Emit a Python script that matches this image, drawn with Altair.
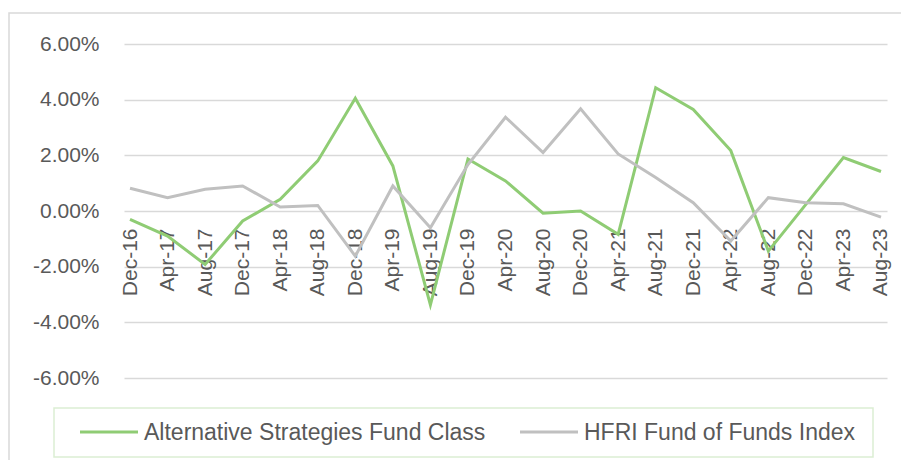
import altair as alt
import pandas as pd

months = ["Dec-16", "Apr-17", "Aug-17", "Dec-17", "Apr-18", "Aug-18", "Dec-18",
          "Apr-19", "Aug-19", "Dec-19", "Apr-20", "Aug-20", "Dec-20", "Apr-21",
          "Aug-21", "Dec-21", "Apr-22", "Aug-22", "Dec-22", "Apr-23", "Aug-23"]

# values in percent
alt_strategies = [-0.30, -0.90, -1.92, -0.36, 0.42, 1.80, 4.05, 1.62, -3.37, 1.87,
                  1.08, -0.08, 0.00, -0.84, 4.43, 3.65, 2.17, -1.44, 0.24, 1.92, 1.42]
hfri_fof = [0.82, 0.48, 0.78, 0.90, 0.14, 0.20, -1.62, 0.90, -0.60, 1.67,
            3.37, 2.10, 3.67, 2.05, 1.20, 0.30, -1.08, 0.48, 0.30, 0.26, -0.22]

series_names = ["Alternative Strategies Fund Class", "HFRI Fund of Funds Index"]
series_colors = ["#8fcc74", "#c0c0c0"]

rows = []
for m, a, h in zip(months, alt_strategies, hfri_fof):
    rows.append({"month": m, "series": series_names[0], "value": a / 100})
    rows.append({"month": m, "series": series_names[1], "value": h / 100})
df = pd.DataFrame(rows)

FONT = "Liberation Sans"
LABEL_COLOR = "#595959"
one = pd.DataFrame({"k": [0]})

frame = alt.Chart(one).mark_rect(
    fillOpacity=0, stroke="#d9d9d9", strokeWidth=1.5
).encode(
    x=alt.value(-115), x2=alt.value(790),
    y=alt.value(-31), y2=alt.value(440)
)

lines = alt.Chart(df).mark_line(strokeWidth=3).encode(
    x=alt.X("month:N", sort=months, scale=alt.Scale(type="point", padding=0.16),
            axis=alt.Axis(title=None, orient="bottom", offset=-167, domain=False,
                          ticks=False, grid=False, labelAngle=270, labelPadding=17,
                          labelFont=FONT, labelFontSize=21, labelColor=LABEL_COLOR)),
    y=alt.Y("value:Q", scale=alt.Scale(domain=[-0.06, 0.06], nice=False),
            axis=alt.Axis(title=None, values=[-0.06, -0.04, -0.02, 0, 0.02, 0.04, 0.06],
                          labelExpr="(datum.value < 0 ? '-' : '') + format(abs(datum.value), '.2%')",
                          domain=False, ticks=False, labelPadding=25,
                          labelFont=FONT, labelFontSize=21, labelColor=LABEL_COLOR,
                          gridColor="#d9d9d9", gridWidth=1.5)),
    color=alt.Color("series:N", scale=alt.Scale(domain=series_names, range=series_colors),
                    legend=None)
)

# legend box (drawn by hand to match the original's layout)
legend_box = alt.Chart(one).mark_rect(
    fill="white", stroke="#dbeed3", strokeWidth=1.5
).encode(x=alt.value(-70), x2=alt.value(749), y=alt.value(364), y2=alt.value(413))

legend_parts = [frame, lines, legend_box]
for name, color, x0 in zip(series_names, series_colors, [-44, 396]):
    legend_parts.append(
        alt.Chart(one).mark_rule(color=color, strokeWidth=3).encode(
            x=alt.value(x0), x2=alt.value(x0 + 58), y=alt.value(388))
    )
    legend_parts.append(
        alt.Chart(one).mark_text(align="left", baseline="middle", font=FONT,
                                 fontSize=23, color=LABEL_COLOR).encode(
            x=alt.value(x0 + 64), y=alt.value(389), text=alt.value(name))
    )

chart = alt.layer(*legend_parts).properties(
    width=763, height=334,
    autosize=alt.AutoSizeParams(type="none"),
    padding={"left": 116, "top": 36, "right": 14, "bottom": 82},
    background="white"
).configure_view(stroke=None)

chart.save("out.html", embed_options={"renderer": "svg", "actions": False})
